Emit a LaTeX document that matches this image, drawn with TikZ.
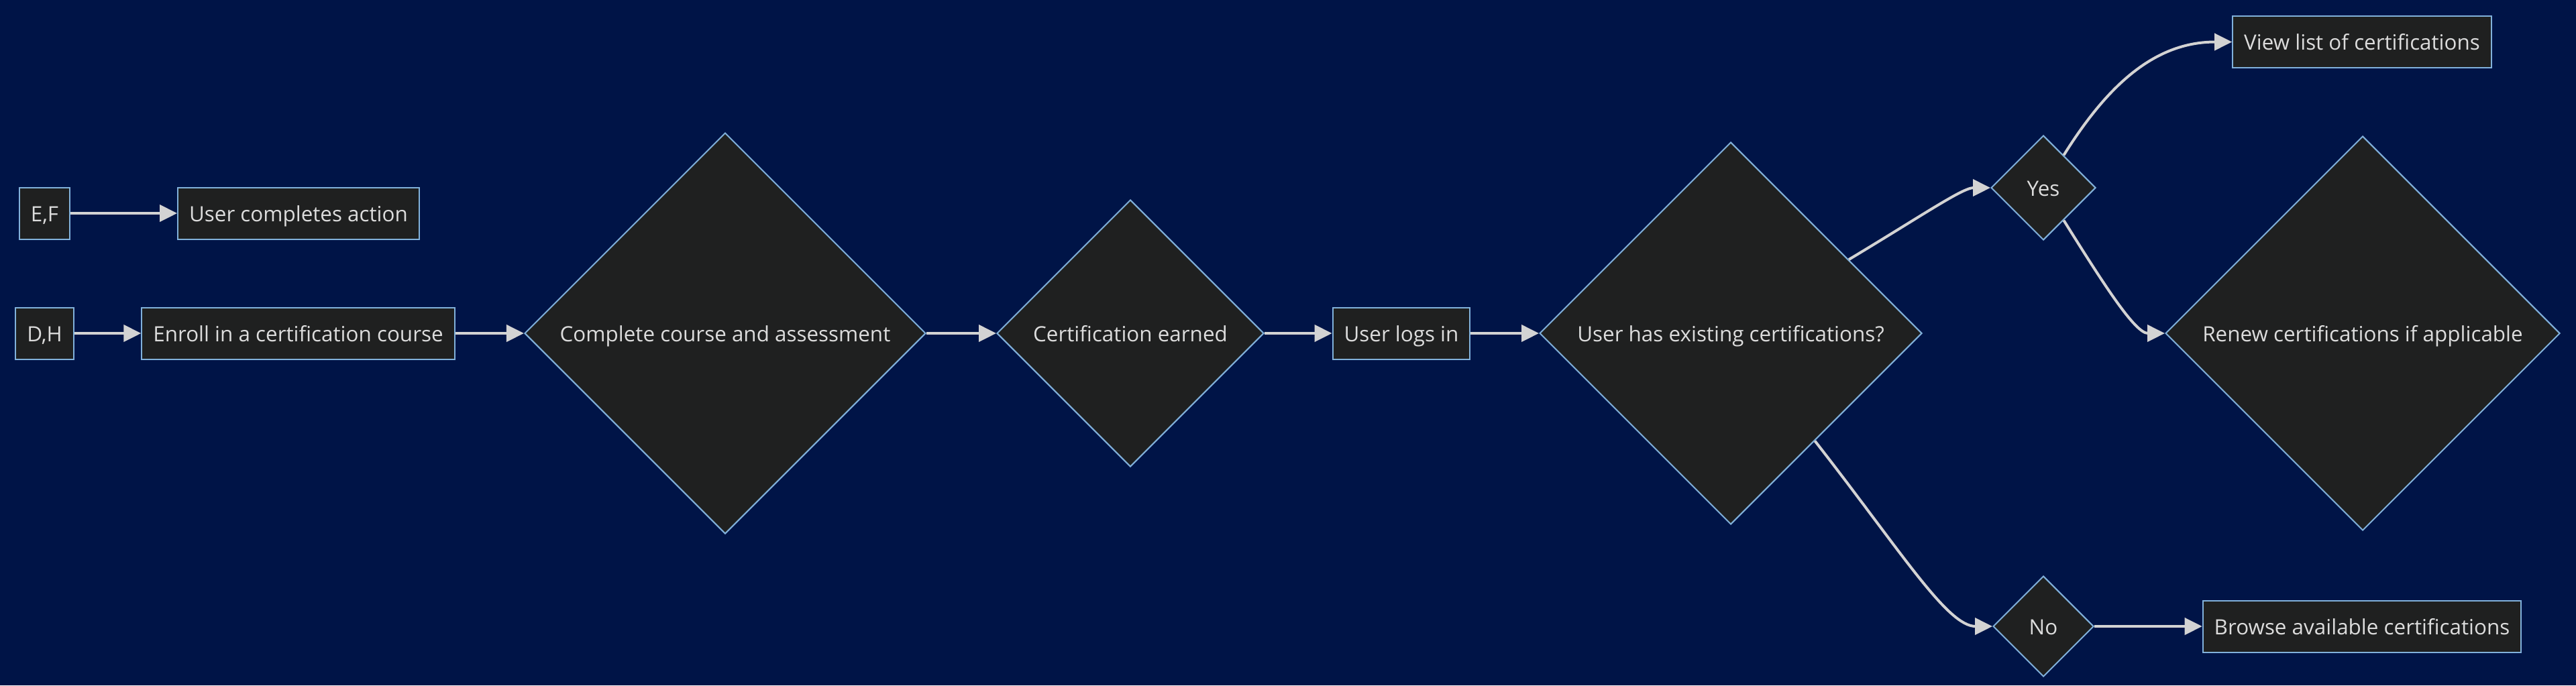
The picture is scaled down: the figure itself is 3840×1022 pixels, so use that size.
\documentclass[tikz,border=0pt]{standalone}
\usepackage{fontspec}
\setmainfont{Open Sans}
\usetikzlibrary{arrows.meta,shapes.geometric}
\definecolor{bg}{HTML}{001447}
\definecolor{nodefill}{HTML}{1F2020}
\definecolor{nodeline}{HTML}{81B1DB}
\definecolor{edgeline}{HTML}{D3D3D3}
\definecolor{labeltext}{HTML}{DCDCDC}
\tikzset{>={Triangle[length=6.5pt,width=6.25pt,fill=edgeline]},font=\fontsize{7.85}{9.4}\selectfont,
box/.style={draw=nodeline,fill=nodefill,line width=0.5pt,text=labeltext,
  minimum height=19.25pt,inner xsep=4.25pt,inner ysep=0pt,text height=7.5pt,text depth=1.5pt},
choice/.style={diamond,aspect=1,draw=nodeline,fill=nodefill,line width=0.5pt,
  text=labeltext,inner sep=0pt,text height=7.5pt,text depth=1.5pt},
flow/.style={color=edgeline,line width=1pt}}

\begin{document}
\begin{tikzpicture}[x=0.25pt,y=-0.25pt]
\fill[bg] (0,0) rectangle (3840,1022);
\node[box] (EF) at (66.5,318) {E,F};
\node[box] (Done) at (445,318) {User completes action};
\node[box] (DH) at (66.5,497) {D,H};
\node[box] (Enroll) at (444.5,497) {Enroll in a certification course};
\node[choice,minimum size=149.5pt] (Course) at (1081,497) {Complete course and assessment};
\node[choice,minimum size=99.5pt] (Earned) at (1685,497) {Certification earned};
\node[box] (Login) at (2089,497) {User logs in};
\node[choice,minimum size=142.5pt] (Has) at (2580,497) {User has existing certifications?};
\node[choice,minimum size=39pt] (Yes) at (3046,280) {Yes};
\node[choice,minimum size=37.5pt] (No) at (3046,934) {No};
\node[box] (View) at (3521,62.5) {View list of certifications};
\node[choice,minimum size=147pt] (Renew) at (3522,497) {Renew certifications if applicable};
\node[box] (Browse) at (3521,934) {Browse available certifications};
\path[->,flow]
(EF) edge (Done)
(DH) edge (Enroll)
(Enroll) edge (Course)
(Course) edge (Earned)
(Earned) edge (Login)
(Login) edge (Has)
;
\path[->,flow]
(Has.32) edge[out=31,in=180,out looseness=1.4,in looseness=0.45] (Yes)
(Has.-52) edge[out=-52,in=180,out looseness=1.4,in looseness=0.45] (No)
;
\path[->,flow]
(Yes.58) edge[out=58,in=180] (View)
(Yes.-58) edge[out=-58,in=180,out looseness=1.3,in looseness=0.5] (Renew)
(No) edge (Browse)
;
\end{tikzpicture}
\end{document}
